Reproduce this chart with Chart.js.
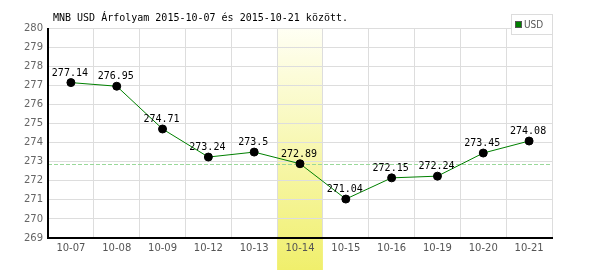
<!DOCTYPE html>
<html>
<head>
<meta charset="utf-8">
<script src="https://cdn.jsdelivr.net/npm/chart.js@4"></script>
<style>
    body { margin: 0; background: #fff; }
    canvas { display: block; }
</style>
</head>
<body>
<canvas id="chart" width="600" height="270"></canvas>
<script>
const labels = ['10-07', '10-08', '10-09', '10-12', '10-13', '10-14', '10-15', '10-16', '10-19', '10-20', '10-21'];
const usdRates = [277.14, 276.95, 274.71, 273.24, 273.5, 272.89, 271.04, 272.15, 272.24, 273.45, 274.08];
const yTicksMin = 269;
const yTicksMax = 280;
const highlightIndex = 5;
const titleText = 'MNB USD Árfolyam 2015-10-07 és 2015-10-21 között.';

const mono = '"DejaVu Sans Mono", monospace';

// band under the picked day, dashed line at its rate, axes, labels
const decorPlugin = {
    id: 'decor',
    beforeDraw(chart) {
        const c = chart.ctx;
        const x = chart.scales.x;
        const area = chart.chartArea;
        c.save();
        c.fillStyle = '#fff';
        c.fillRect(0, 0, chart.width, chart.height);
        const half = (x.getPixelForValue(1) - x.getPixelForValue(0)) / 2;
        const cx = x.getPixelForValue(highlightIndex);
        const g = c.createLinearGradient(0, area.top, 0, chart.height);
        g.addColorStop(0, '#fffff4');
        g.addColorStop(1, '#f0ef6c');
        c.fillStyle = g;
        c.fillRect(cx - half, area.top, half * 2, chart.height - area.top);
        c.restore();
    },
    beforeDatasetsDraw(chart) {
        const c = chart.ctx;
        const area = chart.chartArea;
        const y = Math.round(chart.scales.y.getPixelForValue(usdRates[highlightIndex])) + 0.5;
        c.save();
        c.strokeStyle = '#9ad89a';
        c.lineWidth = 1;
        c.setLineDash([4, 2]);
        c.beginPath();
        c.moveTo(area.left, y);
        c.lineTo(area.right, y);
        c.stroke();
        c.setLineDash([]);
        // axis lines
        c.strokeStyle = '#000';
        c.lineWidth = 2;
        c.beginPath();
        c.moveTo(area.left, area.top);
        c.lineTo(area.left, area.bottom);
        c.lineTo(area.right + 1, area.bottom);
        c.stroke();
        c.restore();
    },
    afterDatasetsDraw(chart) {
        const c = chart.ctx;
        const meta = chart.getDatasetMeta(0);
        c.save();
        c.font = '10px ' + mono;
        c.fillStyle = '#000';
        c.textAlign = 'center';
        c.textBaseline = 'alphabetic';
        meta.data.forEach((p, i) => {
            c.fillText(String(usdRates[i]), p.x - 1, p.y - 7);
        });
        c.restore();
    },
    afterDraw(chart) {
        const c = chart.ctx;
        c.save();
        c.font = '10px ' + mono;
        c.fillStyle = '#000';
        c.textBaseline = 'alphabetic';
        c.fillText(titleText, 53, 21);

        // legend
        c.fillStyle = '#fff';
        c.fillRect(511.5, 14.5, 41, 20);
        c.strokeStyle = '#dcdcdc';
        c.lineWidth = 1;
        c.strokeRect(511.5, 14.5, 41, 20);
        c.fillStyle = '#008000';
        c.fillRect(515.5, 21.5, 6, 6);
        c.strokeStyle = '#555';
        c.strokeRect(515.5, 21.5, 6, 6);
        c.fillStyle = '#555';
        c.font = '10px "DejaVu Sans Condensed", "DejaVu Sans", sans-serif';
        c.textBaseline = 'middle';
        c.fillText('USD', 524, 25);
        c.restore();
    }
};

new Chart(document.getElementById('chart'), {
    type: 'line',
    data: {
        labels: labels,
        datasets: [{
            label: 'USD',
            data: usdRates,
            borderColor: '#008000',
            borderWidth: 1,
            tension: 0,
            pointRadius: 4,
            pointBackgroundColor: '#000',
            pointBorderColor: '#000',
            pointBorderWidth: 1,
            fill: false
        }]
    },
    options: {
        responsive: false,
        animation: false,
        devicePixelRatio: 1,
        layout: { padding: { top: 28, right: 48, left: 0, bottom: 0 } },
        plugins: {
            legend: { display: false },
            tooltip: { enabled: false }
        },
        scales: {
            x: {
                offset: true,
                grid: { offset: true, color: '#dddddd', drawTicks: false },
                border: { display: false },
                ticks: {
                    color: '#555',
                    font: { family: '"DejaVu Sans", sans-serif', size: 10 },
                    padding: 4,
                    maxRotation: 0,
                    autoSkip: false
                },
                afterFit(scale) { scale.height = 32; }
            },
            y: {
                min: yTicksMin,
                max: yTicksMax,
                grid: { color: '#dddddd', drawTicks: false },
                border: { display: false },
                ticks: {
                    stepSize: 1,
                    color: '#666',
                    font: { family: '"DejaVu Sans", sans-serif', size: 10 },
                    padding: 5
                },
                afterFit(scale) { scale.width = 48; }
            }
        }
    },
    plugins: [decorPlugin]
});
</script>
</body>
</html>
